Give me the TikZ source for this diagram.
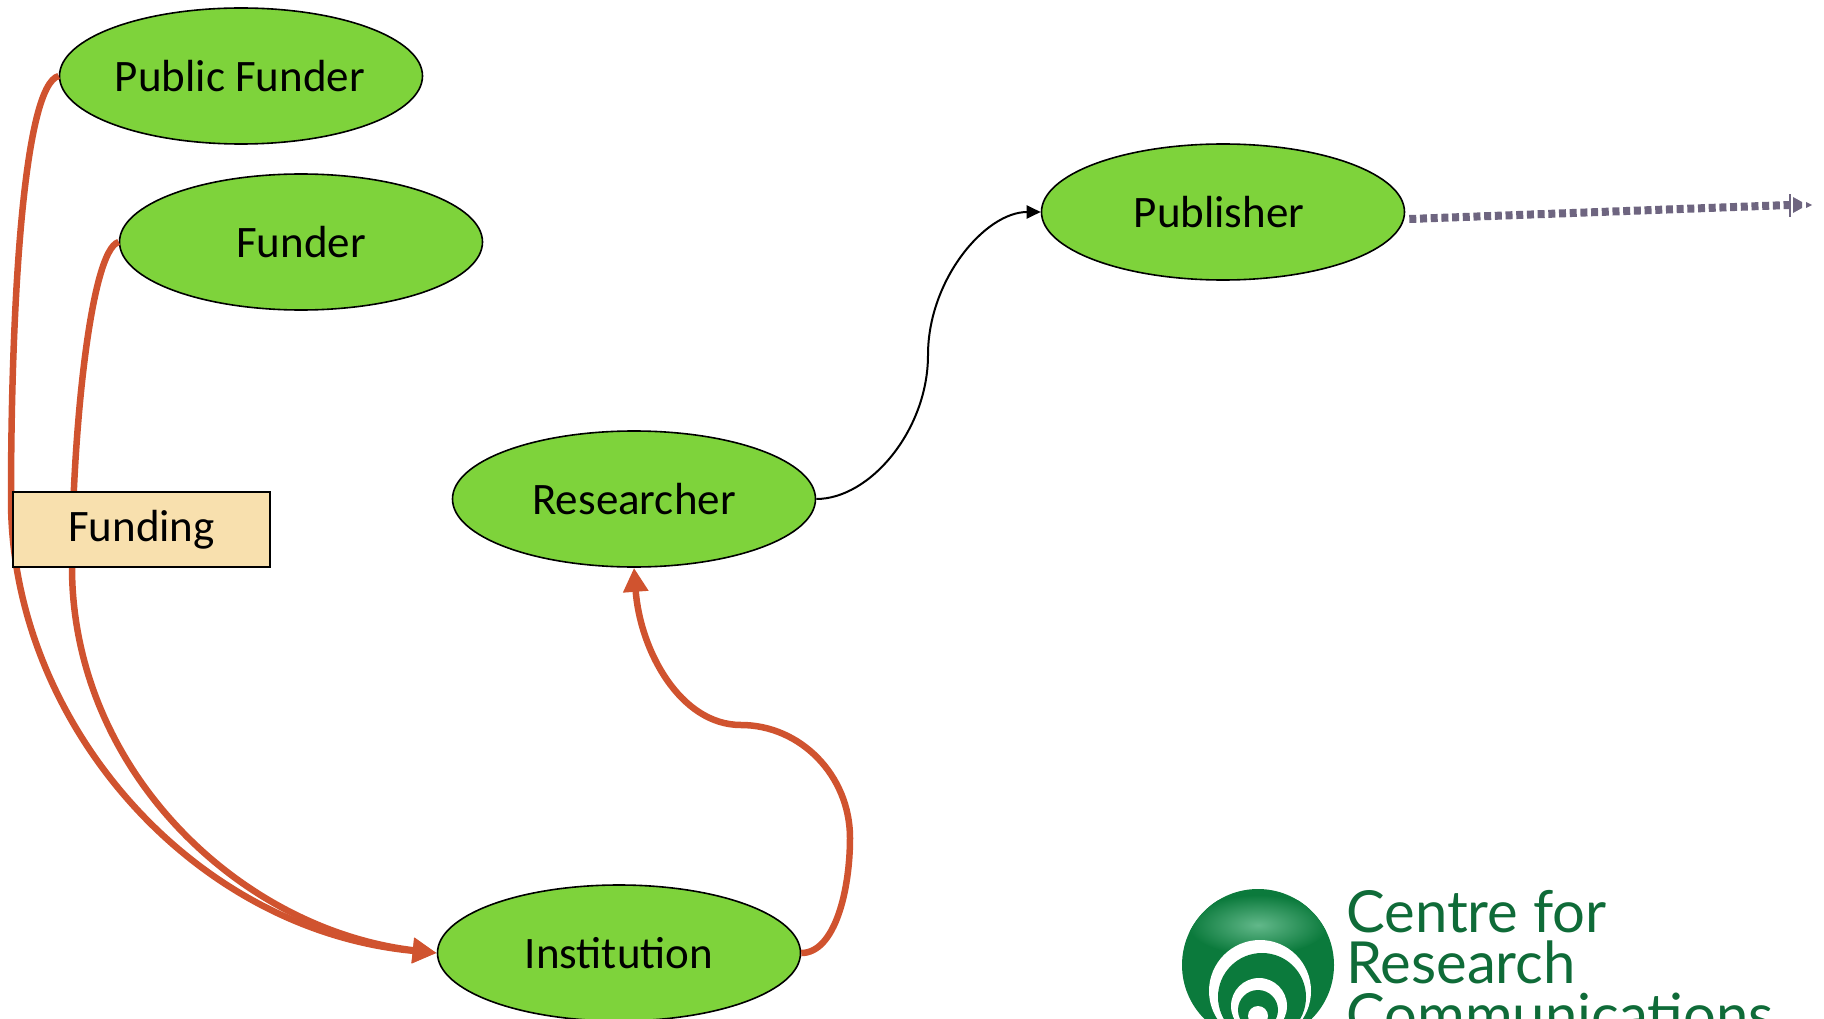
\documentclass[tikz,border=0pt]{standalone}
\usepackage{fontspec}
\setmainfont{Carlito}
\newfontfamily\logofont{Lato}
\usetikzlibrary{arrows.meta,shapes.geometric}
\definecolor{nodegreen}{HTML}{7ED33B}
\definecolor{flow}{HTML}{D0532F}
\definecolor{boxfill}{HTML}{F8E0AE}
\definecolor{dots}{HTML}{6E6580}
\definecolor{logogreen}{HTML}{0B7A3C}
\definecolor{logolight}{HTML}{62B88A}
\definecolor{logotext}{HTML}{0F6B38}
\tikzset{
  actor/.style={ellipse,draw=black,line width=1.6pt,fill=nodegreen,minimum width=363pt,minimum height=136pt,inner sep=0pt,font=\fontsize{45}{54}\selectfont},
  flowline/.style={draw=flow,line width=6.5pt},
  flowtip/.style={-{Triangle[length=24pt,width=24pt]}},
  plainline/.style={draw=black,line width=2pt,-{Triangle[length=14pt,width=13pt]}},
  fundbox/.style={rectangle,draw=black,line width=1.6pt,fill=boxfill,minimum width=257pt,minimum height=75pt,inner sep=0pt,font=\fontsize{45}{54}\selectfont},
  dotline/.style={draw=dots,line width=8pt,dash pattern=on 7pt off 3.7pt},
  logotextstyle/.style={anchor=base west,inner sep=0pt,text=logotext,font=\logofont\fontsize{58}{60}\selectfont}
}
\begin{document}
\begin{tikzpicture}[x=1pt,y=-1pt]
\useasboundingbox (0,0) rectangle (1824,1019);
\clip (0,0) rectangle (1824,1019);
% actors
\node[actor] (pf) at (241,76) {\hspace{-2pt}Public Funder};
\node[actor] (fu) at (301,242) {Funder};
\node[actor] (pb) at (1223,212) {\hspace{-8pt}Publisher};
\node[actor] (re) at (634,499) {Researcher};
\node[actor] (in) at (619,953) {Institution};
% connectors
\draw[flowline,flowtip] (pf.west) .. controls (24,85) and (11,300) .. (11,500) .. controls (11,720) and (190,930) .. (in.west);
\draw[flowline,flowtip] (fu.west) .. controls (90,250) and (72,440) .. (72,567) .. controls (72,770) and (240,930) .. (in.west);
\draw[flowline,flowtip] (in.east) .. controls (835,953) and (850,890) .. (850,838) .. controls (850,775) and (800,725) .. (741,725) .. controls (680,725) and (640,650) .. (re.south);
\draw[plainline] (re.east) .. controls (870,499) and (928,430) .. (928,355) .. controls (928,280) and (985,212) .. (pb.west);
\coordinate (outend) at (1789,205);
\draw[dotline] ([yshift=-7pt]pb.east) ++(4,0) -- (outend);
\fill[dots] (1789,194) rectangle (1791,217);
\fill[dots] (1793,197) -- (1802,202) -- (1802,208) -- (1793,213) -- cycle;
\fill[dots] (1806,202) -- (1812,205) -- (1806,208) -- cycle;
% funding box
\node[fundbox] (fd) at (141.5,529.5) {Funding};
% logo
\fill[logogreen] (1258,965) circle (76);
\begin{scope}
  \clip (1258,965) circle (76);
  \shade[inner color=logolight,outer color=logogreen] (1258,925) ellipse (70 and 30);
\end{scope}
\fill[white] (1260,991) circle (51);
\fill[logogreen] (1262,997) circle (44);
\fill[white] (1259,1006) circle (28);
\fill[logogreen] (1258,1010) circle (20);
\fill[white] (1258,1016) circle (10);
\node[logotextstyle] (l1) at (1346,932) {Centre for};
\node[logotextstyle] (l2) at (1346,983) {Research};
\node[logotextstyle] (l3) at (1346,1035) {Communications};
\end{tikzpicture}
\end{document}
